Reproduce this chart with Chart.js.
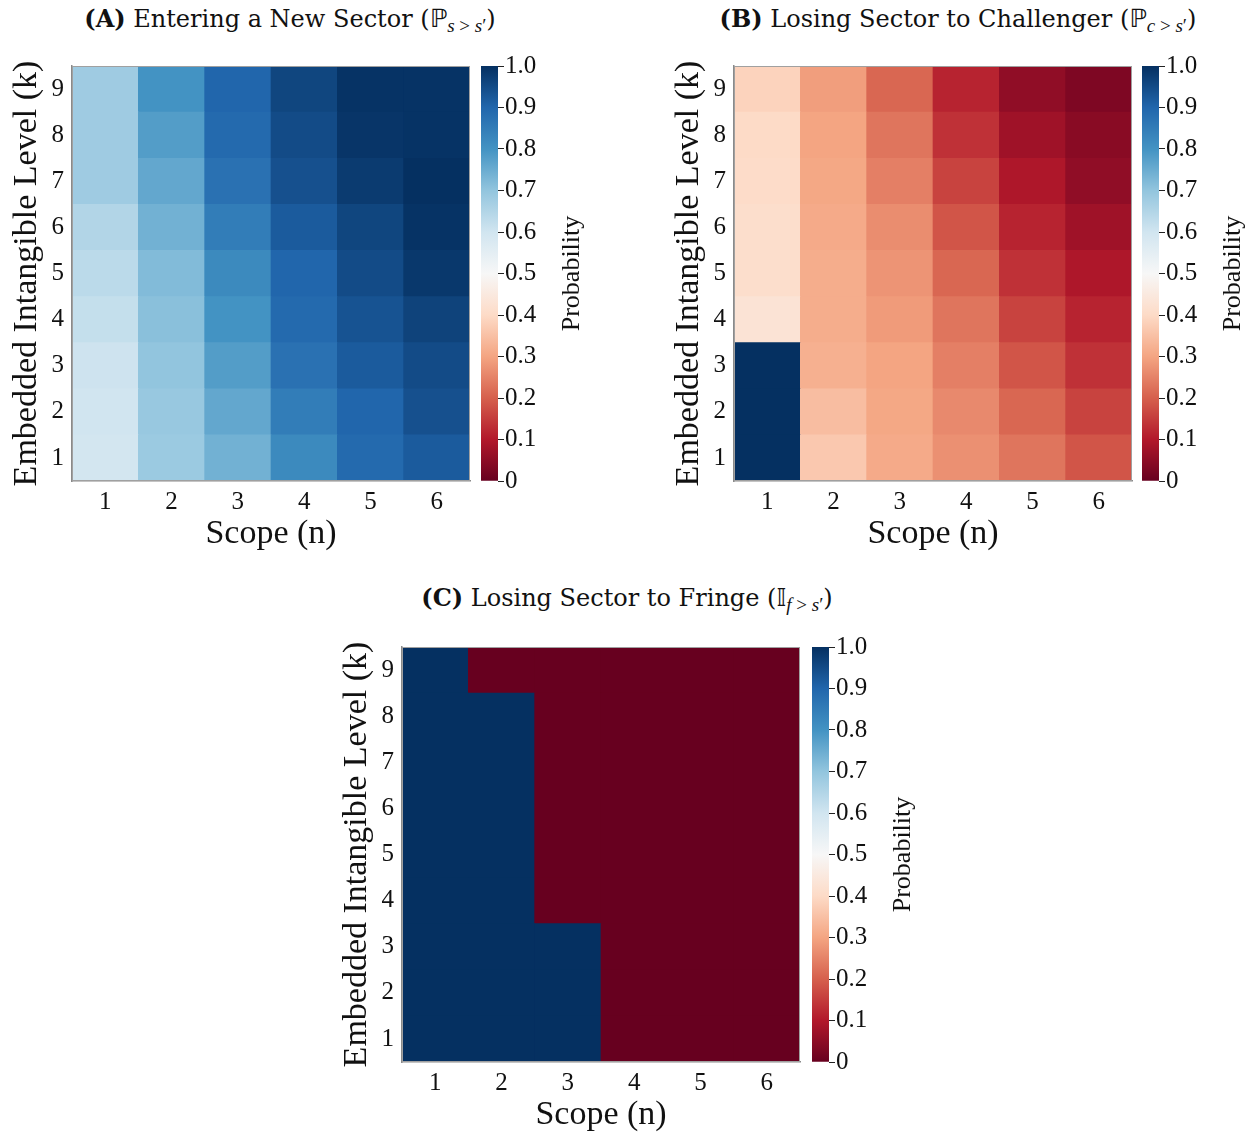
<!DOCTYPE html>
<html>
<head>
<meta charset="utf-8">
<script src="https://cdn.jsdelivr.net/npm/chart.js@4.4.1/dist/chart.umd.min.js"></script>
<style>
  body { margin: 0; background: #fff; width: 1253px; height: 1133px; position: relative; overflow: hidden;
         font-family: "Liberation Serif", "DejaVu Serif", serif; color: #111; }
  .panel-title { position: absolute; font-family: "DejaVu Serif", serif; font-size: 24px; line-height: 32px;
                 white-space: nowrap; transform: translateX(-50%); }
  .panel-title .bb { font-family: "DejaVu Sans", sans-serif; font-size: 25px; }
  .panel-title sub { font-family: "Liberation Serif", serif; font-size: 19px; line-height: 0; vertical-align: -5px; }
  canvas { position: absolute; }
</style>
</head>
<body>
<div class="panel-title" style="left:290px; top:3px"><b>(A)</b> Entering a New Sector (<span class="bb">ℙ</span><sub><i>s</i> &gt; <i>s</i>′</sub>)</div>
<div class="panel-title" style="left:958px; top:3px"><b>(B)</b> Losing Sector to Challenger (<span class="bb">ℙ</span><sub><i>c</i> &gt; <i>s</i>′</sub>)</div>
<div class="panel-title" style="left:627px; top:582px"><b>(C)</b> Losing Sector to Fringe (<span class="bb">𝕀</span><sub><i>f</i> &gt; <i>s</i>′</sub>)</div>

<canvas id="heatA"></canvas>
<canvas id="barA"></canvas>
<canvas id="heatB"></canvas>
<canvas id="barB"></canvas>
<canvas id="heatC"></canvas>
<canvas id="barC"></canvas>

<script>
const scopes = ['1', '2', '3', '4', '5', '6'];
const levels = [1, 2, 3, 4, 5, 6, 7, 8, 9];
const probTicks = [0, 0.1, 0.2, 0.3, 0.4, 0.5, 0.6, 0.7, 0.8, 0.9, 1.0];

// one row per level k = 1..9, columns are scope n = 1..6
const enterNew = [
  [0.595, 0.685, 0.74, 0.82, 0.89, 0.92],
  [0.60, 0.69, 0.76, 0.85, 0.90, 0.94],
  [0.605, 0.70, 0.78, 0.875, 0.92, 0.95],
  [0.62, 0.71, 0.80, 0.89, 0.935, 0.965],
  [0.635, 0.72, 0.82, 0.90, 0.95, 0.985],
  [0.65, 0.74, 0.85, 0.92, 0.96, 0.995],
  [0.68, 0.76, 0.875, 0.94, 0.98, 1.0],
  [0.68, 0.78, 0.89, 0.95, 0.99, 0.995],
  [0.68, 0.80, 0.90, 0.96, 0.995, 0.995]
];

const loseChallenger = [
  [1.0, 0.365, 0.31, 0.27, 0.23, 0.185],
  [1.0, 0.345, 0.305, 0.26, 0.21, 0.16],
  [1.0, 0.32, 0.30, 0.245, 0.185, 0.135],
  [0.43, 0.315, 0.285, 0.23, 0.16, 0.115],
  [0.41, 0.315, 0.275, 0.21, 0.135, 0.095],
  [0.41, 0.31, 0.265, 0.185, 0.115, 0.075],
  [0.405, 0.305, 0.245, 0.16, 0.095, 0.055],
  [0.40, 0.30, 0.23, 0.135, 0.075, 0.045],
  [0.385, 0.29, 0.21, 0.115, 0.055, 0.03]
];

const loseFringe = [
  [1, 1, 1, 0, 0, 0],
  [1, 1, 1, 0, 0, 0],
  [1, 1, 1, 0, 0, 0],
  [1, 1, 0, 0, 0, 0],
  [1, 1, 0, 0, 0, 0],
  [1, 1, 0, 0, 0, 0],
  [1, 1, 0, 0, 0, 0],
  [1, 1, 0, 0, 0, 0],
  [1, 0, 0, 0, 0, 0]
];

// RdBu diverging map, 0 = dark red, 1 = dark blue
const rdbuStops = ['#67001f', '#b2182b', '#d6604d', '#f4a582', '#fddbc7', '#f7f7f7',
                   '#d1e5f0', '#92c5de', '#4393c3', '#2166ac', '#053061'];

function hexToRgb(h) {
  return [parseInt(h.slice(1, 3), 16), parseInt(h.slice(3, 5), 16), parseInt(h.slice(5, 7), 16)];
}

function rdbu(v) {
  const x = Math.min(1, Math.max(0, v)) * 10;
  const i = Math.min(9, Math.floor(x));
  const t = x - i;
  const a = hexToRgb(rdbuStops[i]), b = hexToRgb(rdbuStops[i + 1]);
  const c = a.map((av, j) => Math.round(av + (b[j] - av) * t));
  return `rgb(${c[0]},${c[1]},${c[2]})`;
}

const serif = '"Liberation Serif", "DejaVu Serif", serif';
const tickFont = { family: serif, size: 25 };
const axisFont = { family: serif, size: 34 };
const ink = '#111';
const spine = '#8a8a8a';

// thin frame round the heatmap cells
const frame = {
  id: 'frame',
  afterDatasetsDraw(chart) {
    const { ctx, chartArea: a } = chart;
    ctx.save();
    ctx.strokeStyle = '#a0a0a0';
    ctx.lineWidth = 1;
    ctx.strokeRect(a.left + 0.5, a.top + 0.5, a.right - a.left - 1, a.bottom - a.top - 1);
    ctx.restore();
  }
};

// colorbar label reads bottom-to-top, so it is drawn by hand
const probLabel = {
  id: 'probLabel',
  afterDraw(chart) {
    const { ctx, chartArea: a } = chart;
    ctx.save();
    ctx.translate(a.right + 74, (a.top + a.bottom) / 2);
    ctx.rotate(-Math.PI / 2);
    ctx.font = `26px ${serif}`;
    ctx.fillStyle = ink;
    ctx.textAlign = 'center';
    ctx.textBaseline = 'middle';
    ctx.fillText('Probability', 0, 0);
    ctx.restore();
  }
};

function place(id, left, top) {
  const el = document.getElementById(id);
  el.style.left = left + 'px';
  el.style.top = top + 'px';
  return el;
}

function heatmap(id, grid, ox, oy, w, h) {
  const el = place(id, ox - 72, oy - 40);
  el.width = 72 + w + 10;
  el.height = 40 + h + 76;
  const datasets = levels.map((k, i) => ({
    data: scopes.map(() => [k - 0.5, k + 0.5]),
    backgroundColor: grid[i].map(rdbu),
    borderWidth: 0,
    barPercentage: 1,
    categoryPercentage: 1,
    grouped: false
  }));
  new Chart(el, {
    type: 'bar',
    data: { labels: scopes, datasets },
    options: {
      responsive: false,
      animation: false,
      layout: { padding: { top: 40, right: 10, left: 0, bottom: 0 } },
      plugins: { legend: { display: false }, tooltip: { enabled: false } },
      scales: {
        x: {
          grid: { display: false, drawTicks: false },
          border: { color: spine, width: 1.5 },
          ticks: { font: tickFont, color: ink, padding: 6 },
          title: { display: true, text: 'Scope (n)', font: axisFont, color: ink, padding: { top: 0, bottom: 3 } },
          afterFit: s => { s.height = 76; }
        },
        y: {
          min: 0.5,
          max: 9.5,
          afterBuildTicks: s => { s.ticks = levels.map(v => ({ value: v })); },
          grid: { display: false, drawTicks: false },
          border: { color: spine, width: 1.5 },
          ticks: { font: tickFont, color: ink, padding: 8 },
          title: { display: true, text: 'Embedded Intangible Level (k)', font: axisFont, color: ink, padding: { top: 7, bottom: 0 } },
          afterFit: s => { s.width = 72; }
        }
      }
    },
    plugins: [frame]
  });
}

function colorbar(id, ox, oy, h) {
  const el = place(id, ox - 3, oy - 40);
  el.width = 3 + 17 + 105;
  el.height = 40 + h + 76;
  new Chart(el, {
    type: 'bar',
    data: {
      labels: [''],
      datasets: [{
        data: [[0, 1]],
        backgroundColor: c => {
          const a = c.chart.chartArea;
          if (!a) return rdbu(0.5);
          const g = c.chart.ctx.createLinearGradient(0, a.bottom, 0, a.top);
          rdbuStops.forEach((col, i) => g.addColorStop(i / 10, col));
          return g;
        },
        borderWidth: 0,
        barPercentage: 1,
        categoryPercentage: 1
      }]
    },
    options: {
      responsive: false,
      animation: false,
      layout: { padding: { top: 40, bottom: 76, left: 3, right: 0 } },
      plugins: { legend: { display: false }, tooltip: { enabled: false } },
      scales: {
        x: { display: false },
        y: {
          position: 'right',
          min: 0,
          max: 1,
          afterBuildTicks: s => { s.ticks = probTicks.map(v => ({ value: v })); },
          grid: { drawOnChartArea: false, drawTicks: true, tickLength: 6, color: '#222', lineWidth: 1 },
          border: { display: false },
          ticks: { font: tickFont, color: ink, padding: 1, callback: v => v === 0 ? '0' : v.toFixed(1) },
          afterFit: s => { s.width = 105; }
        }
      }
    },
    plugins: [probLabel]
  });
}

heatmap('heatA', enterNew, 72, 66, 398, 415);
colorbar('barA', 481, 66, 415);
heatmap('heatB', loseChallenger, 734, 66, 398, 415);
colorbar('barB', 1142, 66, 415);
heatmap('heatC', loseFringe, 402, 647, 398, 415);
colorbar('barC', 812, 647, 415);
</script>
</body>
</html>
